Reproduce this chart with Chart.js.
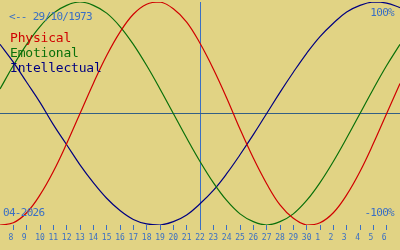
<!DOCTYPE html>
<html>
<head>
<meta charset="utf-8">
<script src="https://cdn.jsdelivr.net/npm/chart.js@4/dist/chart.umd.min.js"></script>
<style>
  html, body { margin: 0; padding: 0; background: #e1d384; }
  #wrap { position: relative; width: 400px; height: 250px; overflow: hidden; }
  #chart { position: absolute; left: 0; top: 0; }
  .txt {
    position: absolute;
    font-family: 'DejaVu Sans Mono', monospace;
    line-height: 1;
    white-space: pre;
  }
  .small { font-size: 11px; letter-spacing: -0.7px; color: #3a6fc4; }
  .legend { font-size: 13px; letter-spacing: -0.2px; }
</style>
</head>
<body>
<div id="wrap">
  <canvas id="chart" width="400" height="250"></canvas>
  <div class="txt small" style="left:9px;top:11px;">&lt;-- 29/10/1973</div>
  <div class="txt small" style="right:6px;top:7px;">100%</div>
  <div class="txt small" style="right:6px;top:207px;">-100%</div>
  <div class="txt small" style="left:3px;top:207px;">04-2026</div>
  <div class="txt legend" style="left:10px;top:31px;color:#d00000;">Physical</div>
  <div class="txt legend" style="left:10px;top:46px;color:#0a700a;">Emotional</div>
  <div class="txt legend" style="left:10px;top:61px;color:#000080;">Intellectual</div>
</div>
<script>
// days shown: 7 Apr .. 7 May (today = 22)
const dayLabels = ['7', '8', '9', '10', '11', '12', '13', '14', '15', '16', '17', '18', '19', '20', '21',
  '22', '23', '24', '25', '26', '27', '28', '29', '30', '1', '2', '3', '4', '5', '6', '7'];
const todayIndex = 15;

// values in %, one per day
const physical = [-100, -98, -89, -73, -52, -27, 0, 27, 52, 73, 89, 98, 100, 94, 82,
  63, 40, 14, -14, -40, -63, -82, -94, -100, -98, -89, -73, -52, -27, 0, 27];
const emotional = [22, 43, 62, 78, 90, 97, 100, 97, 90, 78, 62, 43, 22, 0, -22,
  -43, -62, -78, -90, -97, -100, -97, -90, -78, -62, -43, -22, 0, 22, 43, 62];
const intellectual = [62, 46, 28, 10, -10, -28, -46, -62, -76, -87, -95, -99, -100, -97, -91,
  -81, -69, -54, -37, -19, 0, 19, 37, 54, 69, 81, 91, 97, 100, 99, 95];

const BLUE = '#3a6fc4';
const MID = '#335f85';

function line(data, color) {
  return {
    data: data,
    borderColor: color,
    borderWidth: 1.2,
    pointRadius: 0,
    fill: false,
    tension: 0.4
  };
}

new Chart(document.getElementById('chart'), {
  type: 'line',
  data: {
    labels: dayLabels,
    datasets: [
      line(physical, '#d00000'),
      line(emotional, '#0a700a'),
      line(intellectual, '#000080')
    ]
  },
  options: {
    responsive: false,
    animation: false,
    devicePixelRatio: 1,
    layout: { padding: { top: 2, left: 0, right: 0, bottom: 4.4 } },
    plugins: { legend: { display: false }, tooltip: { enabled: false } },
    scales: {
      x: {
        type: 'category',
        offset: false,
        afterBuildTicks: axis => {
          axis.ticks = axis.ticks.filter(t => t.value > 0 && t.value < dayLabels.length - 1);
        },
        border: { display: false },
        grid: {
          drawOnChartArea: true,
          color: ctx => (ctx.tick && ctx.tick.value === todayIndex) ? BLUE : 'transparent',
          tickColor: BLUE,
          tickLength: 5,
          lineWidth: 1
        },
        ticks: {
          color: BLUE,
          font: { family: 'DejaVu Sans Mono', size: 8 },
          autoSkip: false,
          maxRotation: 0,
          padding: 3,
          callback: function(value) {
            return this.getLabelForValue(value).padEnd(2, ' ');
          }
        }
      },
      y: {
        min: -100,
        max: 100,
        afterFit: s => { s.width = 0; },
        border: { display: false },
        grid: {
          drawTicks: false,
          color: ctx => (ctx.tick && ctx.tick.value === 0) ? MID : 'transparent'
        },
        ticks: { display: false, stepSize: 100 }
      }
    }
  }
});
</script>
</body>
</html>
